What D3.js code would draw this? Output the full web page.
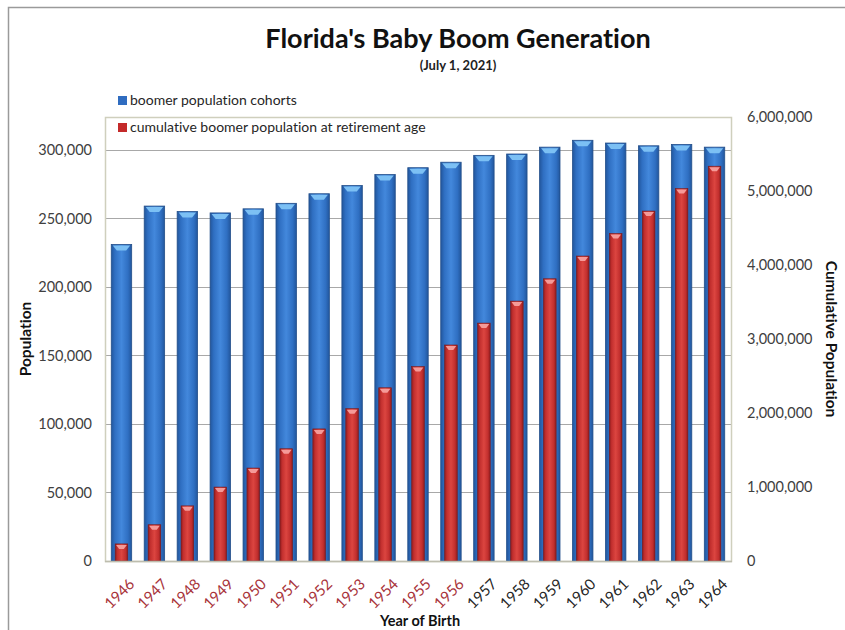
<!DOCTYPE html>
<html>
<head>
<meta charset="utf-8">
<script src="https://d3js.org/d3.v7.min.js"></script>
<style>
  body { margin: 0; background: #fff; }
  text { font-family: Lato, "Open Sans", sans-serif; font-variant-ligatures: none; }
</style>
</head>
<body>
<div id="chart"></div>
<script>
// data
var years = ["1946","1947","1948","1949","1950","1951","1952","1953","1954","1955",
             "1956","1957","1958","1959","1960","1961","1962","1963","1964"];
var cohorts = [231000, 259000, 255000, 254000, 257000, 261000, 268000, 274000, 282000, 287000,
               291000, 296000, 297000, 302000, 307000, 305000, 303000, 304000, 302000];
var cumulative = [231000, 490000, 745000, 999000, 1256000, 1517000, 1785000, 2059000, 2341000, 2628000,
                  2919000, 3215000, 3512000, 3814000, 4121000, 4426000, 4729000, 5033000, 5335000];
var leftTicks = [0, 50000, 100000, 150000, 200000, 250000, 300000];
var rightTicks = [0, 1000000, 2000000, 3000000, 4000000, 5000000, 6000000];
var retiredUpTo = "1956"; // years printed in red

var W = 845, H = 630;
var plot = {left: 105, right: 731, top: 117, bottom: 561};

var svg = d3.select("#chart").append("svg")
    .attr("width", W).attr("height", H);

// gradients for the "cylinder" look
var defs = svg.append("defs");
function grad(id, stops) {
  var g = defs.append("linearGradient").attr("id", id)
      .attr("x1", "0%").attr("x2", "100%").attr("y1", "0%").attr("y2", "0%");
  stops.forEach(function(s) {
    g.append("stop").attr("offset", s[0]).attr("stop-color", s[1]);
  });
}
grad("blueGrad", [["0%", "#22569c"], ["18%", "#2f6fc2"], ["50%", "#4388dc"], ["82%", "#2f6fc2"], ["100%", "#22569c"]]);
grad("redGrad", [["0%", "#8e1c1e"], ["18%", "#c22f2e"], ["50%", "#dc4540"], ["82%", "#c22f2e"], ["100%", "#8e1c1e"]]);

// outer frame
svg.append("rect")
    .attr("x", 8.5).attr("y", 7.5).attr("width", W).attr("height", H)
    .attr("fill", "none").attr("stroke", "#9a9a9a").attr("stroke-width", 1.5);

var x = d3.scaleBand().domain(years)
    .range([plot.left, plot.right]).paddingInner(0.38).paddingOuter(0.19);
var yL = d3.scaleLinear().domain([0, 324000]).range([plot.bottom, plot.top]);
var yR = d3.scaleLinear().domain([0, 6000000]).range([plot.bottom, plot.top]);

// gridlines
svg.append("g").selectAll("line").data(leftTicks.slice(1)).join("line")
    .attr("x1", plot.left).attr("x2", plot.right)
    .attr("y1", function(d) { return Math.round(yL(d)) + 0.5; })
    .attr("y2", function(d) { return Math.round(yL(d)) + 0.5; })
    .attr("stroke", "#a8a8a8").attr("stroke-width", 1);

// plot area border
svg.append("rect")
    .attr("x", plot.left + 0.5).attr("y", plot.top + 0.5)
    .attr("width", plot.right - plot.left).attr("height", plot.bottom - plot.top)
    .attr("fill", "none").attr("stroke", "#cfcfbd").attr("stroke-width", 1.5);

// blue bars
var bw = x.bandwidth();
var blue = svg.append("g");
blue.selectAll("rect").data(cohorts).join("rect")
    .attr("x", function(d, i) { return x(years[i]); })
    .attr("y", function(d) { return yL(d); })
    .attr("width", bw)
    .attr("height", function(d) { return plot.bottom - yL(d); })
    .attr("fill", "url(#blueGrad)")
    .attr("stroke", "#234f8a").attr("stroke-width", 0.8);
blue.selectAll("path").data(cohorts).join("path")
    .attr("d", function(d, i) {
      var x0 = x(years[i]) + 1.5, x1 = x(years[i]) + bw - 1.5, y0 = yL(d) + 1;
      return "M" + x0 + "," + y0 + "L" + x1 + "," + y0 + "L" + (x1 - 4) + "," + (y0 + 5) +
             "L" + (x0 + 4) + "," + (y0 + 5) + "Z";
    })
    .attr("fill", "#7cc0f4");

// red bars (secondary axis), narrower and centred on the blue ones
var rw = bw * 0.62;
var red = svg.append("g");
red.selectAll("rect").data(cumulative).join("rect")
    .attr("x", function(d, i) { return x(years[i]) + (bw - rw) / 2; })
    .attr("y", function(d) { return yR(d); })
    .attr("width", rw)
    .attr("height", function(d) { return plot.bottom - yR(d); })
    .attr("fill", "url(#redGrad)")
    .attr("stroke", "#7a1a1c").attr("stroke-width", 0.6);
red.selectAll("path").data(cumulative).join("path")
    .attr("d", function(d, i) {
      var x0 = x(years[i]) + (bw - rw) / 2 + 1, x1 = x0 + rw - 2, y0 = yR(d) + 1;
      return "M" + x0 + "," + y0 + "L" + x1 + "," + y0 + "L" + (x1 - 3) + "," + (y0 + 4) +
             "L" + (x0 + 3) + "," + (y0 + 4) + "Z";
    })
    .attr("fill", "#f59a98");

// zero line
svg.append("line")
    .attr("x1", plot.left).attr("x2", plot.right + 1)
    .attr("y1", plot.bottom + 0.5).attr("y2", plot.bottom + 0.5)
    .attr("stroke", "#bdbdae").attr("stroke-width", 1.5);

var fmt = d3.format(",");

// left axis
var axL = svg.append("g").attr("transform", "translate(" + plot.left + ",0)")
    .call(d3.axisLeft(yL).tickValues(leftTicks).tickFormat(fmt).tickSize(0).tickPadding(13));
axL.select(".domain").remove();
axL.selectAll("text").attr("font-family", "Lato, sans-serif").attr("font-size", 14.5).attr("fill", "#404040");

// right axis
var axR = svg.append("g").attr("transform", "translate(" + plot.right + ",0)")
    .call(d3.axisRight(yR).tickValues(rightTicks).tickFormat(fmt).tickSize(0).tickPadding(16));
axR.select(".domain").remove();
axR.selectAll("text").attr("font-family", "Lato, sans-serif").attr("font-size", 14.5).attr("fill", "#404040");

// x axis labels
var axX = svg.append("g").attr("transform", "translate(0," + plot.bottom + ")")
    .call(d3.axisBottom(x).tickSize(0).tickPadding(0));
axX.select(".domain").remove();
axX.selectAll("text")
    .attr("font-family", "Lato, sans-serif").attr("font-size", 15)
    .attr("text-anchor", "end")
    .attr("dy", "0")
    .attr("transform", "translate(14,24) rotate(-45)")
    .attr("fill", function(d) { return d <= retiredUpTo ? "#a8333a" : "#262626"; });

// titles
svg.append("text").attr("x", 458).attr("y", 48)
    .attr("text-anchor", "middle").attr("font-size", 27).attr("font-weight", "bold")
    .attr("fill", "#111").text("Florida's Baby Boom Generation");
svg.append("text").attr("x", 458).attr("y", 70)
    .attr("text-anchor", "middle").attr("font-size", 13).attr("font-weight", "bold")
    .attr("fill", "#222").text("(July 1, 2021)");

svg.append("text")
    .attr("transform", "translate(31,339) rotate(-90)")
    .attr("text-anchor", "middle").attr("font-size", 15.5).attr("font-weight", "bold")
    .attr("fill", "#111").text("Population");
svg.append("text")
    .attr("transform", "translate(826,339) rotate(90)")
    .attr("text-anchor", "middle").attr("font-size", 15.5).attr("font-weight", "bold")
    .attr("fill", "#111").text("Cumulative Population");
svg.append("text").attr("x", 420).attr("y", 626)
    .attr("text-anchor", "middle").attr("font-size", 14.5).attr("font-weight", "bold")
    .attr("fill", "#111").text("Year of Birth");

// legend
var legend = [
  {label: "boomer population cohorts", fill: "#2f6cc0", y: 105},
  {label: "cumulative boomer population at retirement age", fill: "#c42a2a", y: 132}
];
var lg = svg.append("g").selectAll("g").data(legend).join("g");
lg.append("rect")
    .attr("x", 118).attr("y", function(d) { return d.y - 9; })
    .attr("width", 9).attr("height", 9)
    .attr("fill", function(d) { return d.fill; });
lg.append("text")
    .attr("x", 130).attr("y", function(d) { return d.y; })
    .attr("font-size", 14).attr("fill", "#262626")
    .text(function(d) { return d.label; });
</script>
</body>
</html>
